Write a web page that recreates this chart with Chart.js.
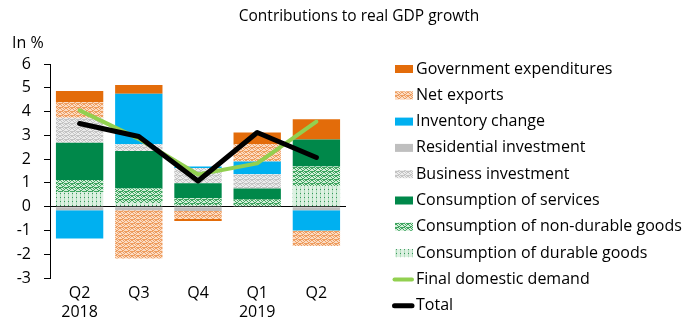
<!DOCTYPE html>
<html>
<head>
<meta charset="utf-8">
<script src="https://cdn.jsdelivr.net/npm/chart.js@4/dist/chart.umd.min.js"></script>
<style>
  html, body { margin: 0; padding: 0; background: #fff; }
  #wrap { width: 694px; height: 322px; position: relative; }
</style>
</head>
<body>
<div id="wrap"><canvas id="c" width="694" height="322"></canvas></div>
<script>
// ---- data ----
const categories = [['Q2', '2018'], 'Q3', 'Q4', ['Q1', '2019'], 'Q2'];
const durableGoods    = [0.61, 0.15, 0.05, 0.00, 0.87];
const nonDurableGoods = [0.51, 0.61, 0.30, 0.31, 0.82];
const services        = [1.57, 1.58, 0.63, 0.45, 1.14];
const businessInv     = [1.05, 0.28, 0.65, 0.60, 0.00];
const residentialInv  = [-0.15, -0.15, -0.18, 0.00, -0.15];
const inventoryChange = [-1.19, 2.13, 0.06, 0.54, -0.85];
const netExports      = [0.65, -2.03, -0.34, 0.73, -0.65];
const govExpenditures = [0.47, 0.37, -0.08, 0.49, 0.85];
const finalDomestic   = [4.05, 2.85, 1.35, 1.82, 3.58];
const total           = [3.50, 2.95, 1.08, 3.12, 2.07];
const yTicks = { min: -3, max: 6, step: 1 };
const chartTitle = 'Contributions to real GDP growth';
const unitLabel = 'In %';

const FONT = '"Open Sans", "Liberation Sans", sans-serif';

// ---- patterns ----
function tile(w, h, bg, draw) {
  const c = document.createElement('canvas');
  c.width = w; c.height = h;
  const x = c.getContext('2d');
  x.fillStyle = bg; x.fillRect(0, 0, w, h);
  draw(x);
  return x.createPattern(c, 'repeat');
}
function wave(bg, fg) {
  return tile(6, 4, bg, (x) => {
    x.fillStyle = fg;
    [[0,0],[1,1],[2,2],[3,2],[4,1],[5,0],[0,3],[3,0],[5,3],[1,3],[2,3],[4,3]].forEach(p => x.fillRect(p[0], p[1], 1, 1));
  });
}
const patNetExports = wave('#fbdcc4', '#ee9d5f');
const patBusiness   = wave('#ececec', '#c4c4c4');
const patNonDurable = wave('#d3eed9', '#3fa560');
const patDurable = tile(4, 4, '#ddf1e2', (x) => {
  x.fillStyle = '#b5dfc0'; x.fillRect(0, 0, 1, 4);
  x.fillStyle = '#34985a'; x.fillRect(0, 1, 1, 1);
});

const datasets = [
  { type: 'line', label: 'Total', data: total, borderColor: '#000000', backgroundColor: '#000000',
    borderWidth: 5, pointRadius: 0, borderCapStyle: 'round', borderJoinStyle: 'round', stack: 'l1', tension: 0 },
  { type: 'line', label: 'Final domestic demand', data: finalDomestic, borderColor: '#92d050', backgroundColor: '#92d050',
    borderWidth: 4, pointRadius: 0, borderCapStyle: 'round', borderJoinStyle: 'round', stack: 'l2', tension: 0 },
  { type: 'bar', label: 'Consumption of durable goods', data: durableGoods, backgroundColor: patDurable, stack: 'b' },
  { type: 'bar', label: 'Consumption of non-durable goods', data: nonDurableGoods, backgroundColor: patNonDurable, stack: 'b' },
  { type: 'bar', label: 'Consumption of services', data: services, backgroundColor: '#00884a', stack: 'b' },
  { type: 'bar', label: 'Business investment', data: businessInv, backgroundColor: patBusiness, stack: 'b' },
  { type: 'bar', label: 'Residential investment', data: residentialInv, backgroundColor: '#bfbfbf', stack: 'b' },
  { type: 'bar', label: 'Inventory change', data: inventoryChange, backgroundColor: '#00b0f0', stack: 'b' },
  { type: 'bar', label: 'Net exports', data: netExports, backgroundColor: patNetExports, stack: 'b' },
  { type: 'bar', label: 'Government expenditures', data: govExpenditures, backgroundColor: '#e36c0a', stack: 'b' }
];

// custom title, unit label and legend
const legendPlugin = {
  id: 'customLegend',
  afterDraw(chart) {
    const ctx = chart.ctx;
    ctx.save();
    ctx.fillStyle = '#000';
    ctx.textBaseline = 'middle';
    ctx.font = '15.5px ' + FONT;
    ctx.textAlign = 'center';
    ctx.fillText(chartTitle, 359, 17);
    ctx.textAlign = 'left';
    ctx.font = '16px ' + FONT;
    ctx.fillText(unitLabel, 12, 43);
    const items = chart.data.datasets.slice(2).reverse().concat(chart.data.datasets.slice(1, 2), chart.data.datasets.slice(0, 1));
    const x0 = 395, y0 = 69, step = 26.3;
    items.forEach((ds, i) => {
      const y = y0 + i * step;
      if (ds.type === 'line') {
        ctx.strokeStyle = ds.borderColor;
        ctx.lineWidth = ds.borderWidth;
        ctx.lineCap = 'round';
        ctx.beginPath(); ctx.moveTo(x0 - 0.5, y); ctx.lineTo(x0 + 17, y); ctx.stroke();
      } else {
        ctx.fillStyle = ds.backgroundColor;
        ctx.fillRect(x0, y - 4, 18, 8);
      }
      ctx.fillStyle = '#000';
      ctx.fillText(ds.label, x0 + 21, y);
    });
    ctx.restore();
  }
};

new Chart(document.getElementById('c'), {
  data: { labels: categories, datasets },
  plugins: [legendPlugin],
  options: {
    responsive: false,
    animation: false,
    devicePixelRatio: 1,
    layout: { padding: { left: 0, right: 348, top: 64, bottom: 0 } },
    datasets: { bar: { categoryPercentage: 0.8, barPercentage: 1.0 } },
    plugins: {
      legend: { display: false },
      tooltip: { enabled: false },
      title: { display: false }
    },
    scales: {
      x: {
        stacked: true,
        grid: { display: false, drawTicks: false },
        border: { display: false },
        ticks: { color: '#000', font: { family: FONT, size: 16, lineHeight: 1.2 }, padding: 6, maxRotation: 0 },
        afterFit(s) { s.height = 44; }
      },
      y: {
        stacked: true,
        min: yTicks.min, max: yTicks.max,
        ticks: { stepSize: yTicks.step, color: '#000', font: { family: FONT, size: 16 }, padding: 13 },
        grid: {
          drawOnChartArea: true,
          color: (c) => (c.tick && c.tick.value === 0 ? '#000' : 'rgba(0,0,0,0)'),
          tickColor: '#000', tickLength: 6, lineWidth: 1
        },
        border: { display: true, color: '#000', width: 1 },
        afterFit(s) { s.width = 50; }
      }
    }
  }
});
</script>
</body>
</html>
